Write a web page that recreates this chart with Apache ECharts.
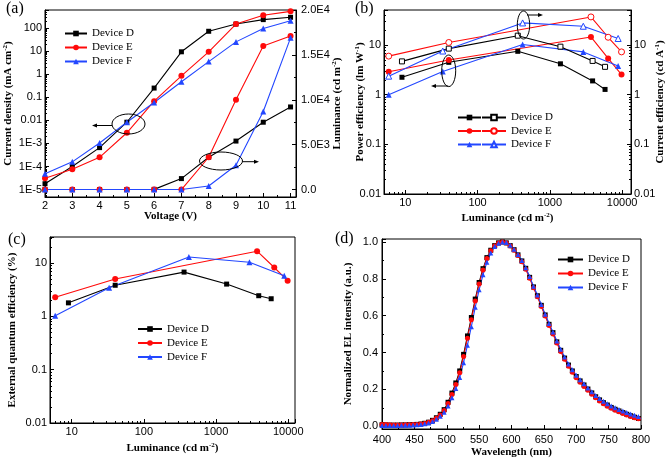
<!DOCTYPE html>
<html><head><meta charset="utf-8">
<script src="https://cdn.jsdelivr.net/npm/echarts@6/dist/echarts.min.js"></script>
<style>html,body{margin:0;padding:0;background:#fff}#c{width:668px;height:461px}</style>
</head><body><div id="c"></div>
<script>
// ---------- (a) J-V-L ----------
const voltage = [2, 3, 4, 5, 6, 7, 8, 9, 10, 11];
const jD = [1.8e-5, 1.0e-4, 6.6e-4, 8.3e-3, 0.25, 9.3, 72, 148, 230, 290];
const jE = [3.1e-5, 7.6e-5, 2.5e-4, 2.9e-3, 0.068, 0.85, 9.3, 148, 355, 525];
const jF = [4.9e-5, 1.6e-4, 1.05e-3, 8.3e-3, 0.059, 0.47, 3.5, 25, 95, 205];
const lumD = [0, 0, 0, 0, 20, 1220, 3600, 5400, 7500, 9200];
const lumE = [0, 0, 0, 0, 0, 0, 3600, 10000, 16000, 17100];
const lumF = [0, 0, 0, 0, 0, 0, 400, 2700, 8700, 16900];
const voltTicks = ['2','3','4','5','6','7','8','9','10','11'];
const jTicks = ['1E-5','1E-4','1E-3','0.01','0.1','1','10','100'];
const lumTicksA = ['0.0','5.0E3','1.0E4','1.5E4','2.0E4'];
// ---------- (b) efficiencies ----------
const effLumD = [9, 40, 360, 1400, 3900, 5800];
const effLumE = [5.9, 40, 3700, 6400, 9800];
const effLumF = [5.9, 33, 420, 2900, 8800];
const peD = [2.25, 4.5, 7.5, 4.2, 1.9, 1.28];
const peE = [2.9, 5.0, 14.6, 5.4, 2.55];
const peF = [1.0, 2.95, 10.3, 7.3, 3.8];
const ceD = [4.7, 8.5, 15.5, 9.3, 4.8, 3.65];
const ceE = [6.0, 11.3, 37, 14.4, 7.3];
const ceF = [2.37, 7.6, 28, 24, 13.6];
const effTicks = ['0.01','0.1','1','10'];
const lumLogTicks = ['10','100','1000','10000'];
// ---------- (c) EQE ----------
const eqeD = [1.8, 3.85, 6.8, 4.05, 2.45, 2.15];
const eqeE = [2.3, 5.05, 16.8, 8.3, 4.7];
const eqeF = [1.03, 3.45, 13.1, 10.4, 5.8];
// ---------- (d) EL spectra ----------
const wavelength = [400,406,412,418,424,430,436,442,448,454,460,466,472,478,484,490,496,502,508,514,520,526,532,538,544,550,556,562,568,574,580,586,592,598,604,610,616,622,628,634,640,646,652,658,664,670,676,682,688,694,700,706,712,718,724,730,736,742,748,754,760,766,772,778,784,790,796];
const elD = [0.008,0.007,0.006,0.006,0.006,0.007,0.007,0.008,0.009,0.010,0.012,0.016,0.022,0.032,0.046,0.065,0.090,0.130,0.180,0.235,0.300,0.390,0.490,0.590,0.690,0.780,0.855,0.915,0.955,0.980,0.995,1.000,0.995,0.980,0.958,0.930,0.897,0.857,0.808,0.756,0.708,0.656,0.604,0.553,0.508,0.458,0.412,0.370,0.332,0.300,0.270,0.246,0.224,0.202,0.181,0.160,0.143,0.128,0.115,0.102,0.092,0.083,0.074,0.065,0.057,0.049,0.042];
const elE = [0.010,0.009,0.008,0.007,0.007,0.007,0.008,0.008,0.009,0.010,0.012,0.015,0.021,0.030,0.043,0.061,0.085,0.123,0.172,0.226,0.290,0.378,0.478,0.578,0.680,0.772,0.848,0.910,0.952,0.978,0.994,1.000,0.994,0.978,0.955,0.926,0.893,0.852,0.803,0.751,0.702,0.650,0.598,0.547,0.500,0.452,0.406,0.364,0.326,0.293,0.263,0.239,0.216,0.195,0.174,0.154,0.137,0.122,0.109,0.097,0.087,0.078,0.069,0.061,0.053,0.046,0.040];
const elF = [0.004,0.004,0.004,0.004,0.004,0.005,0.005,0.006,0.007,0.008,0.010,0.013,0.018,0.026,0.038,0.054,0.076,0.110,0.155,0.205,0.265,0.345,0.440,0.540,0.645,0.740,0.822,0.890,0.940,0.975,0.993,1.000,0.997,0.982,0.960,0.932,0.900,0.860,0.812,0.760,0.712,0.660,0.608,0.558,0.512,0.463,0.418,0.376,0.338,0.306,0.277,0.252,0.230,0.208,0.187,0.167,0.150,0.135,0.122,0.110,0.100,0.091,0.082,0.074,0.066,0.059,0.053];
const wlTicks = ['400','450','500','550','600','650','700','750','800'];
const elTicks = ['0.0','0.2','0.4','0.6','0.8','1.0'];

const BLACK = '#000000', RED = '#ff0a0a', BLUE = '#2347ff';
const SANS = 'Liberation Sans', SERIF = 'Liberation Serif';
const displayName = {};

function pair(xs, ys) { return xs.map((x, i) => [x, ys[i]]); }
function ser(id, label, xi, yi, xs, ys, color, symbol, size, open) {
  displayName[id] = label;
  return {
    type: 'line', name: id, xAxisIndex: xi, yAxisIndex: yi, data: pair(xs, ys),
    symbol: symbol, symbolSize: size, showAllSymbol: true,
    lineStyle: { color: color, width: 1.1 },
    itemStyle: open ? { color: '#fff', borderColor: color, borderWidth: 1 } : { color: color, borderWidth: 0 },
    emphasis: { disabled: true }, animation: false
  };
}
function logFmt(labels, minExp) {
  return v => {
    const e = Math.log10(v), r = Math.round(e);
    if (Math.abs(e - r) > 1e-6) return '';
    const s = labels[r - minExp];
    return s === undefined ? '' : s;
  };
}
function stepFmt(labels, start, step) {
  return v => {
    const k = (v - start) / step, r = Math.round(k);
    if (Math.abs(k - r) > 1e-6) return '';
    const s = labels[r];
    return s === undefined ? '' : s;
  };
}
const nameStyle = {
  fontFamily: SERIF, fontWeight: 'bold', fontSize: 11, color: '#000', lineHeight: 13,
  rich: { sup: { fontFamily: SERIF, fontWeight: 'bold', fontSize: 7, color: '#000', verticalAlign: 'top', lineHeight: 13 } }
};
function axis(o) {
  const base = {
    nameLocation: 'middle', nameTextStyle: nameStyle, nameMoveOverlap: false,
    axisLine: { show: true, onZero: false, lineStyle: { color: '#000', width: 1 } },
    axisTick: { show: true, inside: true, length: 4, lineStyle: { color: '#000', width: 1 } },
    minorTick: { show: true, length: 2, splitNumber: 9, lineStyle: { color: '#000', width: 1 } },
    splitLine: { show: false }, minorSplitLine: { show: false },
    axisLabel: { color: '#000', fontFamily: SANS, fontSize: 11, margin: 3, showMinLabel: true, showMaxLabel: true }
  };
  const r = Object.assign(base, o);
  if (o.labelFmt) { r.axisLabel = Object.assign({}, base.axisLabel, { formatter: o.labelFmt }, o.labelExtra || {}); delete r.labelFmt; delete r.labelExtra; }
  if (o.minorSplit) { r.minorTick = Object.assign({}, base.minorTick, { splitNumber: o.minorSplit }); delete r.minorSplit; }
  return r;
}

const grids = [
  { left: 45, top: 10, width: 251, height: 187 },
  { left: 384, top: 10, width: 252, height: 184 },
  { left: 50, top: 237, width: 245, height: 186 },
  { left: 382, top: 239, width: 259, height: 190 }
].map(g => Object.assign(g, { show: true, borderColor: '#000', borderWidth: 1, backgroundColor: 'transparent' }));

const xAxes = [
  axis({ gridIndex: 0, type: 'value', min: 2, max: 11.2, interval: 1, minorSplit: 2, name: 'Voltage (V)', nameGap: 13, labelFmt: stepFmt(voltTicks, 2, 1) }),
  axis({ gridIndex: 1, type: 'log', logBase: 10, min: 5.08, max: 13250, name: 'Luminance (cd m{sup|-2})', nameGap: 18, labelFmt: logFmt(lumLogTicks, 1) }),
  axis({ gridIndex: 2, type: 'log', logBase: 10, min: 5.0, max: 12400, name: 'Luminance (cd m{sup|-2})', nameGap: 19, labelFmt: logFmt(lumLogTicks, 1) }),
  axis({ gridIndex: 3, type: 'value', min: 400, max: 800, interval: 50, minorSplit: 2, name: 'Wavelength (nm)', nameGap: 17, labelFmt: stepFmt(wlTicks, 400, 50), labelExtra: { margin: 5 } })
];
const yAxes = [
  axis({ gridIndex: 0, type: 'log', logBase: 10, min: 4.8e-6, max: 600, position: 'left', name: 'Current density (mA cm{sup|-2})', nameGap: 30, nameRotate: 90, labelFmt: logFmt(jTicks, -5) }),
  axis({ gridIndex: 0, type: 'value', min: -830, max: 20000, splitNumber: 4, minorSplit: 2, position: 'right', name: 'Luminance (cd m{sup|-2})', nameGap: 35, nameRotate: 90, labelFmt: stepFmt(lumTicksA, 0, 5000), labelExtra: { margin: 5 } }),
  axis({ gridIndex: 1, type: 'log', logBase: 10, min: 0.01, max: 51, position: 'left', name: 'Power efficiency (lm W{sup|-1})', nameGap: 17, nameRotate: 90, labelFmt: logFmt(effTicks, -2) }),
  axis({ gridIndex: 1, type: 'log', logBase: 10, min: 0.01, max: 51, position: 'right', name: 'Current efficiency (cd A{sup|-1})', nameGap: 23, nameRotate: 90, labelFmt: logFmt(effTicks, -2) }),
  axis({ gridIndex: 2, type: 'log', logBase: 10, min: 0.01, max: 31, position: 'left', name: 'External quantum efficiency (%)', nameGap: 31, nameRotate: 90, labelFmt: logFmt(effTicks, -2) }),
  axis({ gridIndex: 3, type: 'value', min: -0.015, max: 1.016, splitNumber: 5, minorSplit: 2, position: 'left', name: 'Normalized EL intensity (a.u.)', nameGap: 27, nameRotate: 90, labelFmt: stepFmt(elTicks, 0, 0.2), labelExtra: { margin: 4 } })
];

const series = [
  // (a)
  ser('aD', 'Device D', 0, 0, voltage, jD, BLACK, 'rect', 5),
  ser('aE', 'Device E', 0, 0, voltage, jE, RED, 'circle', 6),
  ser('aF', 'Device F', 0, 0, voltage, jF, BLUE, 'triangle', 6),
  ser('aLD', 'Device D', 0, 1, voltage, lumD, BLACK, 'rect', 5),
  ser('aLE', 'Device E', 0, 1, voltage, lumE, RED, 'circle', 6),
  ser('aLF', 'Device F', 0, 1, voltage, lumF, BLUE, 'triangle', 6),
  // (b)
  ser('bPD', '', 1, 2, effLumD, peD, BLACK, 'rect', 5),
  ser('bPE', '', 1, 2, effLumE, peE, RED, 'circle', 6),
  ser('bPF', '', 1, 2, effLumF, peF, BLUE, 'triangle', 6),
  ser('bCD', 'Device D', 1, 3, effLumD, ceD, BLACK, 'rect', 5, true),
  ser('bCE', 'Device E', 1, 3, effLumE, ceE, RED, 'circle', 6, true),
  ser('bCF', 'Device F', 1, 3, effLumF, ceF, BLUE, 'triangle', 6, true),
  // (c)
  ser('cD', 'Device D', 2, 4, effLumD, eqeD, BLACK, 'rect', 5),
  ser('cE', 'Device E', 2, 4, effLumE, eqeE, RED, 'circle', 6),
  ser('cF', 'Device F', 2, 4, effLumF, eqeF, BLUE, 'triangle', 6),
  // (d)
  ser('dD', 'Device D', 3, 5, wavelength, elD, BLACK, 'rect', 5),
  ser('dE', 'Device E', 3, 5, wavelength, elE, RED, 'circle', 5),
  ser('dF', 'Device F', 3, 5, wavelength, elF, BLUE, 'triangle', 5)
];

const legendText = { fontFamily: SERIF, fontSize: 11, color: '#000' };
function leg(data, left, top, w, blank, gap) {
  return {
    data: data, left: left, top: top, orient: 'vertical', padding: 0,
    itemWidth: w, itemHeight: 7, itemGap: gap === undefined ? 3 : gap, selectedMode: false,
    textStyle: legendText,
    formatter: blank ? () => ' ' : (n => displayName[n])
  };
}
const legends = [
  leg(['aD', 'aE', 'aF'], 64, 28, 22),
  leg(['bPD', 'bPE', 'bPF'], 457, 112, 23, true, 2.5),
  leg(['bCD', 'bCE', 'bCF'], 481, 112, 24, false, 2.5),
  leg(['cD', 'cE', 'cF'], 137, 323.5, 24),
  leg(['dD', 'dE', 'dF'], 557, 254, 25)
];

function label(t, x, y) {
  return { type: 'text', x: x, y: y, z: 100, style: { text: t, font: '16px "' + SERIF + '"', fill: '#000', verticalAlign: 'top' } };
}
function ellipse(cx, cy, rx, ry) {
  return { type: 'ellipse', z: 100, shape: { cx: cx, cy: cy, rx: rx, ry: ry }, style: { fill: 'none', stroke: '#000', lineWidth: 1 } };
}
function arrow(x1, y, x2) {
  const d = x2 < x1 ? 1 : -1;
  return [
    { type: 'line', z: 100, shape: { x1: x1, y1: y, x2: x2 + d * 3, y2: y }, style: { stroke: '#000', lineWidth: 1 } },
    { type: 'polygon', z: 100, shape: { points: [[x2, y], [x2 + d * 5, y - 2], [x2 + d * 5, y + 2]] }, style: { fill: '#000' } }
  ];
}
const graphics = [
  label('(a)', 6, 1), label('(b)', 355, 1), label('(c)', 8, 232), label('(d)', 335, 231),
  ellipse(128.5, 124, 16.5, 10), ...arrow(112, 125.5, 92),
  ellipse(221, 161, 21.5, 9), ...arrow(242.5, 161.7, 259),
  ellipse(448.7, 70.8, 7, 15.8), ...arrow(448.3, 86, 431),
  ellipse(523.5, 25, 6.2, 14), ...arrow(527, 15, 543)
];

const chart = echarts.init(document.getElementById('c'), null, { renderer: 'canvas' });
chart.setOption({
  animation: false, backgroundColor: '#fff',
  grid: grids, xAxis: xAxes, yAxis: yAxes, series: series,
  legend: legends, graphic: graphics, tooltip: { show: false }
});
</script></body></html>
